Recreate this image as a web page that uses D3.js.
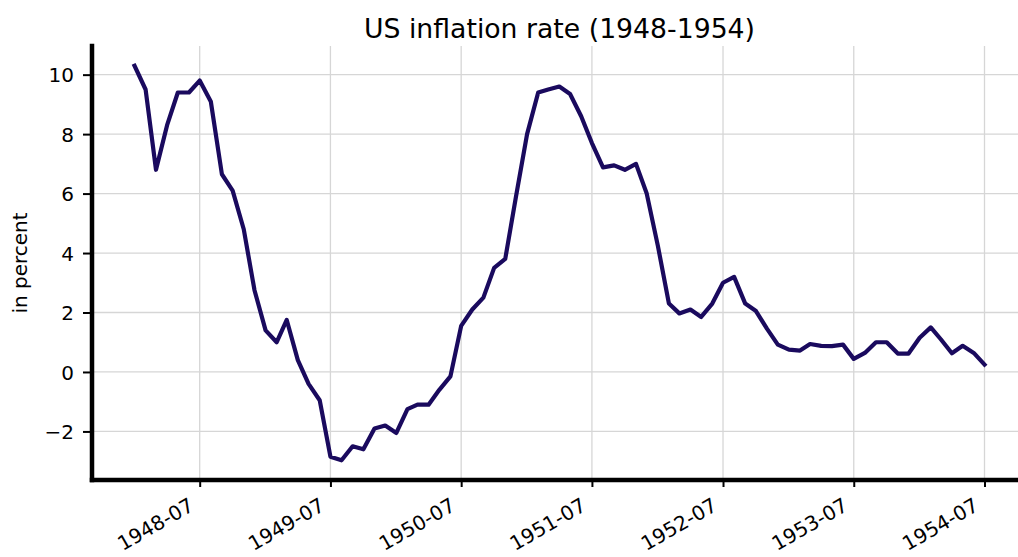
<!DOCTYPE html>
<html><head><meta charset="utf-8">
<script src="https://cdn.jsdelivr.net/npm/d3@7"></script>
<style>body{margin:0;background:#fff;} svg{display:block;} text{font-family:"DejaVu Sans",sans-serif;fill:#000;}</style>
</head><body><svg id="c" width="1018" height="557"></svg>
<script>
const months = [
 "1948-01","1948-02","1948-03","1948-04","1948-05","1948-06","1948-07","1948-08","1948-09","1948-10","1948-11","1948-12",
 "1949-01","1949-02","1949-03","1949-04","1949-05","1949-06","1949-07","1949-08","1949-09","1949-10","1949-11","1949-12",
 "1950-01","1950-02","1950-03","1950-04","1950-05","1950-06","1950-07","1950-08","1950-09","1950-10","1950-11","1950-12",
 "1951-01","1951-02","1951-03","1951-04","1951-05","1951-06","1951-07","1951-08","1951-09","1951-10","1951-11","1951-12",
 "1952-01","1952-02","1952-03","1952-04","1952-05","1952-06","1952-07","1952-08","1952-09","1952-10","1952-11","1952-12",
 "1953-01","1953-02","1953-03","1953-04","1953-05","1953-06","1953-07","1953-08","1953-09","1953-10","1953-11","1953-12",
 "1954-01","1954-02","1954-03","1954-04","1954-05","1954-06","1954-07"];
const inflation = [
 10.3, 9.5, 6.8, 8.3, 9.4, 9.4, 9.8, 9.1, 6.65, 6.1, 4.8, 2.75,
 1.4, 1.0, 1.75, 0.4, -0.4, -0.95, -2.85, -2.97, -2.5, -2.6, -1.9, -1.8,
 -2.05, -1.25, -1.1, -1.1, -0.6, -0.15, 1.55, 2.1, 2.5, 3.5, 3.8, 5.9,
 8.0, 9.4, 9.5, 9.6, 9.35, 8.6, 7.7, 6.88, 6.95, 6.8, 7.0, 6.0,
 4.25, 2.3, 1.97, 2.1, 1.85, 2.3, 3.0, 3.2, 2.3, 2.05, 1.45, 0.92,
 0.75, 0.72, 0.94, 0.88, 0.87, 0.92, 0.44, 0.64, 1.0, 1.0, 0.62, 0.62,
 1.15, 1.5, 1.1, 0.63, 0.88, 0.64, 0.25];
const xTickLabels = ["1948-07","1949-07","1950-07","1951-07","1952-07","1953-07","1954-07"];
const yTickValues = [-2, 0, 2, 4, 6, 8, 10];
const titleText = "US inflation rate (1948-1954)";
const yLabelText = "in percent";

const parse = d3.timeParse("%Y-%m");
const dates = months.map(parse);
const tickDates = xTickLabels.map(parse);

const L = 92, R = 1027, T = 46, B = 480;
const t0 = +dates[0], t1 = +dates[dates.length - 1];
const padT = (t1 - t0) * 0.05;
const x = d3.scaleTime().domain([new Date(t0 - padT), new Date(t1 + padT)]).range([L, R]);
const [lo, hi] = d3.extent(inflation);
const padY = (hi - lo) * 0.05;
const y = d3.scaleLinear().domain([lo - padY, hi + padY]).range([B, T]);

const svg = d3.select("#c");

// grid
const grid = svg.append("g").attr("stroke", "#d6d6d6").attr("stroke-width", 1.3);
grid.selectAll("line.v").data(tickDates).join("line")
  .attr("x1", d => x(d)).attr("x2", d => x(d)).attr("y1", T).attr("y2", B);
grid.selectAll("line.h").data(yTickValues).join("line")
  .attr("x1", L).attr("x2", R).attr("y1", d => y(d)).attr("y2", d => y(d));

// line
const line = d3.line().x((d, i) => x(dates[i])).y(d => y(d));
svg.append("path").datum(inflation)
  .attr("d", line)
  .attr("fill", "none")
  .attr("stroke", "#1a0a5e")
  .attr("stroke-width", 4.2)
  .attr("stroke-linejoin", "round")
  .attr("stroke-linecap", "square");

// x axis
const xAxis = d3.axisBottom(x).tickValues(tickDates).tickSize(7).tickPadding(0)
  .tickFormat(d3.timeFormat("%Y-%m"));
const gx = svg.append("g").attr("transform", `translate(0,${B})`).call(xAxis);
gx.select(".domain").remove();
gx.selectAll(".tick line").attr("stroke", "#000").attr("stroke-width", 2).attr("y1", 2);
gx.selectAll(".tick text")
  .attr("font-size", 20)
  .attr("text-anchor", "end")
  .attr("y", 0).attr("dy", 0)
  .attr("transform", "translate(-5,29.5) rotate(-30)");

// y axis
const yAxis = d3.axisLeft(y).tickValues(yTickValues).tickSize(7).tickPadding(9)
  .tickFormat(d => d < 0 ? "\u2212" + Math.abs(d) : d);
const gy = svg.append("g").attr("transform", `translate(${L - 2},0)`).call(yAxis);
gy.select(".domain").remove();
gy.selectAll(".tick line").attr("stroke", "#000").attr("stroke-width", 2);
gy.selectAll(".tick text").attr("font-size", 20).attr("dy", "0.36em");

// spines
svg.append("line").attr("x1", L).attr("x2", L).attr("y1", T).attr("y2", B)
  .attr("stroke", "#000").attr("stroke-width", 4.5).attr("stroke-linecap", "square");
svg.append("line").attr("x1", L).attr("x2", R).attr("y1", B).attr("y2", B)
  .attr("stroke", "#000").attr("stroke-width", 4.5).attr("stroke-linecap", "square");

// title
svg.append("text").attr("x", (L + R) / 2).attr("y", 38)
  .attr("text-anchor", "middle").attr("font-size", 26.7).text(titleText);

// y label
svg.append("text").attr("transform", `translate(27,${(T + B) / 2}) rotate(-90)`)
  .attr("text-anchor", "middle").attr("font-size", 20).text(yLabelText);
</script></body></html>
